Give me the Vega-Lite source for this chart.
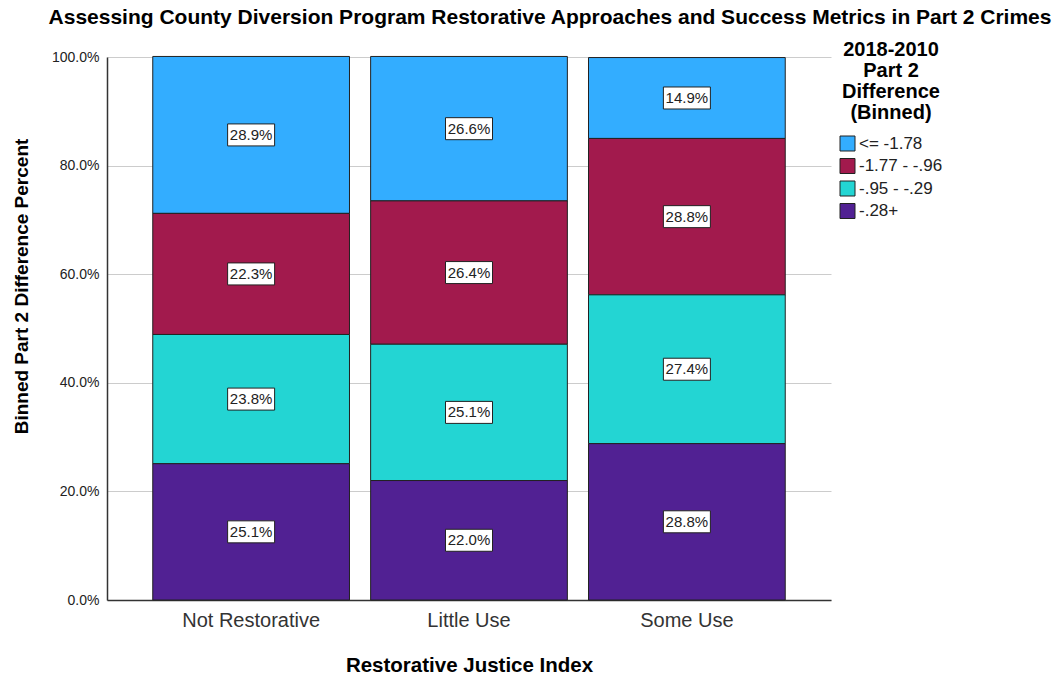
{
  "$schema": "https://vega.github.io/schema/vega-lite/v6.json",
  "autosize": "none",
  "width": 724,
  "height": 543,
  "padding": {"left": 107, "top": 57, "right": 224, "bottom": 75},
  "background": "white",
  "config": {
    "font": "Liberation Sans",
    "view": {"stroke": null}
  },
  "title": {
    "text": "Assessing County Diversion Program Restorative Approaches and Success Metrics in Part 2 Crimes",
    "font": "Liberation Sans",
    "fontSize": 21,
    "fontWeight": "bold",
    "color": "#000000",
    "anchor": "middle",
    "frame": "group",
    "dx": 81,
    "offset": 12
  },
  "data": {
    "values": [
      {"index": "Not Restorative", "bin": "<= -1.78", "pct": 0.289},
      {"index": "Not Restorative", "bin": "-1.77 - -.96", "pct": 0.223},
      {"index": "Not Restorative", "bin": "-.95 - -.29", "pct": 0.238},
      {"index": "Not Restorative", "bin": "-.28+", "pct": 0.251},
      {"index": "Little Use", "bin": "<= -1.78", "pct": 0.266},
      {"index": "Little Use", "bin": "-1.77 - -.96", "pct": 0.264},
      {"index": "Little Use", "bin": "-.95 - -.29", "pct": 0.251},
      {"index": "Little Use", "bin": "-.28+", "pct": 0.220},
      {"index": "Some Use", "bin": "<= -1.78", "pct": 0.149},
      {"index": "Some Use", "bin": "-1.77 - -.96", "pct": 0.288},
      {"index": "Some Use", "bin": "-.95 - -.29", "pct": 0.274},
      {"index": "Some Use", "bin": "-.28+", "pct": 0.288}
    ]
  },
  "transform": [
    {
      "stack": "pct",
      "groupby": ["index"],
      "sort": [{"field": "bin", "order": "ascending"}],
      "as": ["y0", "y1"]
    },
    {"calculate": "(datum.y0 + datum.y1) / 2", "as": "ymid"}
  ],
  "encoding": {
    "x": {
      "field": "index",
      "type": "nominal",
      "sort": ["Not Restorative", "Little Use", "Some Use"],
      "scale": {"paddingInner": 0.097, "paddingOuter": 0.21},
      "axis": {
        "title": "Restorative Justice Index",
        "titleFontSize": 20.5,
        "titleFontWeight": "bold",
        "titleColor": "#000000",
        "titleBaseline": "alphabetic",
        "titleY": 71,
        "labelAngle": 0,
        "labelFontSize": 20,
        "labelColor": "#333333",
        "labelPadding": 10,
        "ticks": false,
        "domainColor": "#333333",
        "domainWidth": 1.5
      }
    }
  },
  "layer": [
    {
      "mark": {"type": "bar", "stroke": "#222222", "strokeWidth": 1, "opacity": 1},
      "encoding": {
        "y": {
          "field": "y0",
          "type": "quantitative",
          "scale": {"domain": [0, 1]},
          "axis": {
            "title": "Binned Part 2 Difference Percent",
            "titleFontSize": 19,
            "titleFontWeight": "bold",
            "titleColor": "#000000",
            "titleAngle": -90,
            "titleBaseline": "top",
            "titleAlign": "center",
            "titleX": -95,
            "titleY": 229,
            "values": [0, 0.2, 0.4, 0.6, 0.8, 1],
            "format": ".1%",
            "labelFontSize": 14,
            "labelColor": "#222222",
            "labelPadding": 8,
            "ticks": false,
            "grid": true,
            "gridColor": "#cccccc",
            "gridWidth": 1,
            "domainColor": "#333333",
            "domainWidth": 1.5
          }
        },
        "y2": {"field": "y1"},
        "color": {
          "field": "bin",
          "type": "nominal",
          "scale": {
            "domain": ["<= -1.78", "-1.77 - -.96", "-.95 - -.29", "-.28+"],
            "range": ["#33adff", "#a21a4d", "#23d5d3", "#512193"]
          },
          "legend": {
            "orient": "none",
            "legendX": 732,
            "legendY": -17,
            "title": ["2018-2010", "Part 2", "Difference", "(Binned)"],
            "titleFontSize": 20,
            "titleFontWeight": "bold",
            "titleColor": "#000000",
            "titleLineHeight": 21,
            "titleAlign": "center",
            "titleAnchor": "middle",
            "titlePadding": 12,
            "symbolType": "square",
            "symbolSize": 225,
            "symbolStrokeColor": "#222222",
            "symbolStrokeWidth": 1,
            "symbolOpacity": 1,
            "labelFontSize": 17,
            "labelColor": "#222222",
            "labelOffset": 3,
            "rowPadding": 3.5
          }
        }
      }
    },
    {
      "mark": {
        "type": "point",
        "shape": "M-1,-0.468H1V0.468H-1Z",
        "filled": true,
        "fill": "#ffffff",
        "stroke": "#222222",
        "strokeWidth": 1,
        "opacity": 1,
        "size": 2209
      },
      "encoding": {
        "y": {"field": "ymid", "type": "quantitative"}
      }
    },
    {
      "mark": {"type": "text", "fontSize": 15, "color": "#222222", "baseline": "middle", "align": "center"},
      "encoding": {
        "y": {"field": "ymid", "type": "quantitative"},
        "text": {"field": "pct", "type": "quantitative", "format": ".1%"}
      }
    }
  ]
}
